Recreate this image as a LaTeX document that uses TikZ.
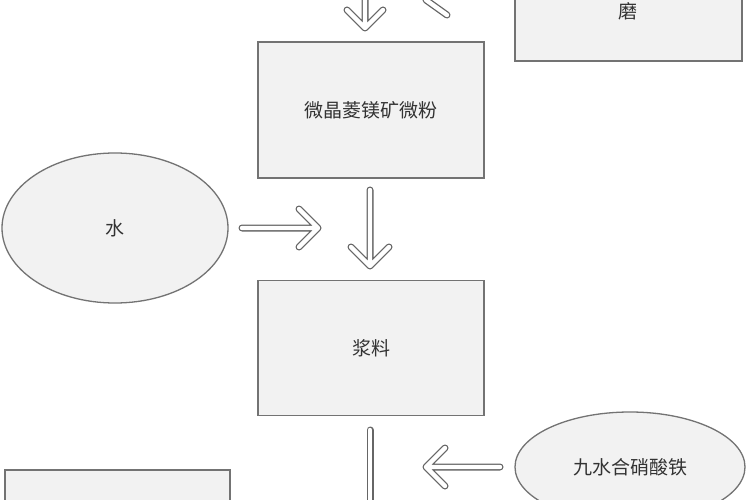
\documentclass[tikz,border=0pt]{standalone}
\usepackage{fontspec}
\usetikzlibrary{shapes.geometric}
\newfontfamily\cjk{Noto Sans CJK SC}
\begin{document}
\begin{tikzpicture}[x=1pt,y=-1pt,
  box/.style={draw=black!55,line width=1.3pt,fill=black!5},
  lab/.style={font=\cjk\fontsize{19}{22}\selectfont,text=black!80},
  outer/.style={draw=black!60,line width=7pt,line cap=round,line join=round},
  inner/.style={draw=white,line width=4.4pt,line cap=round,line join=round}]
\useasboundingbox (0,0) rectangle (750,500);
\fill[white] (0,0) rectangle (750,500);
% shapes
\node[box,minimum width=227pt,minimum height=68pt,inner sep=0] (mo) at (628.5,27) {};
\node[lab] (mot) at (628,11) {磨};
\node[box,minimum width=226pt,minimum height=136pt] (wf) at (371,110) {};
\node[lab] at (wf) {微晶菱镁矿微粉};
\node[box,ellipse,minimum width=226pt,minimum height=150pt] (sh) at (115,228) {};
\node[lab] at (sh) {水};
\node[box,minimum width=226pt,minimum height=135pt] (jl) at (371,348) {};
\node[lab] at (jl) {浆料};
\node[box,ellipse,minimum width=230pt,minimum height=110pt] (jt) at (630,467) {};
\node[lab] at (jt) {九水合硝酸铁};
\node[box,minimum width=225pt,minimum height=80pt] (bl) at (117.5,510) {};
% arrows
\newcommand{\hollowarrow}[4]{% shaft start, tip, arm1, arm2
  \foreach \s in {outer,inner}{\draw[\s] #1 -- #2 #3 -- #2 -- #4;}}
\coordinate (a1s) at (365,-20); \coordinate (a1t) at (365,28);
\hollowarrow{(a1s)}{(a1t)}{(347,10)}{(383,10)}
\foreach \s in {outer,inner}{\draw[\s] (426,0) -- (447,15);}
\coordinate (a2s) at (242,228); \coordinate (a2t) at (318,228);
\hollowarrow{(a2s)}{(a2t)}{(299,209)}{(299,247)}
\coordinate (a3s) at (370,190); \coordinate (a3t) at (370,266);
\hollowarrow{(a3s)}{(a3t)}{(351,247)}{(389,247)}
\coordinate (a4s) at (370,430); \coordinate (a4t) at (370,520);
\foreach \s in {outer,inner}{\draw[\s] (a4s) -- (a4t);}
\coordinate (a5s) at (500,467); \coordinate (a5t) at (426,467);
\hollowarrow{(a5s)}{(a5t)}{(445,448)}{(445,486)}
\end{tikzpicture}
\end{document}
